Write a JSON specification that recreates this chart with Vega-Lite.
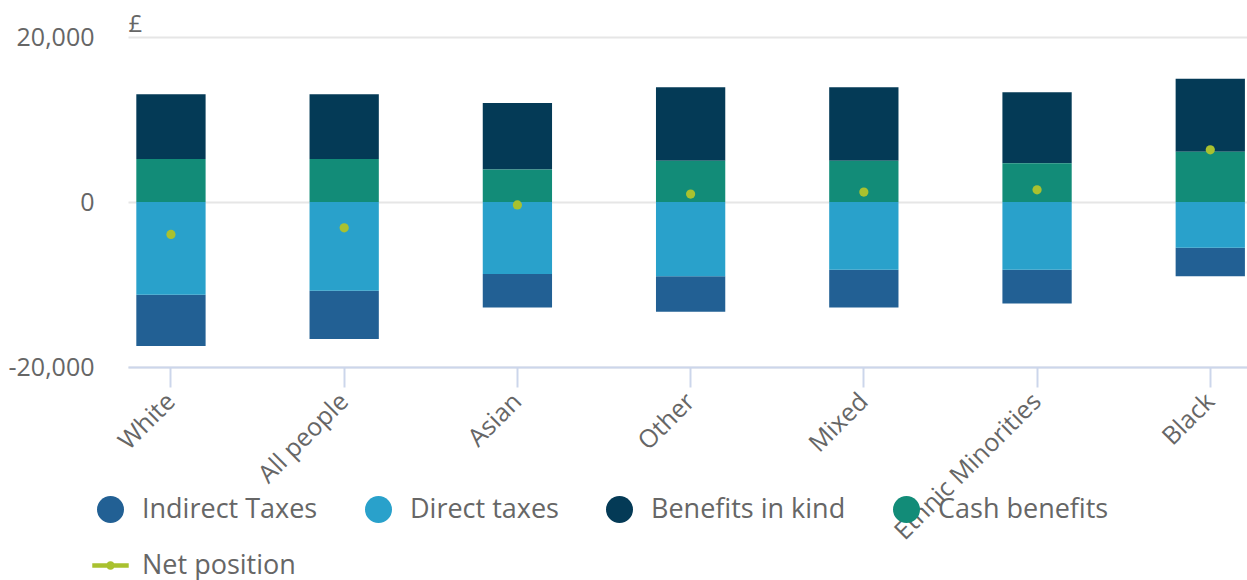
{
  "$schema": "https://vega.github.io/schema/vega-lite/v6.json",
  "autosize": {"type": "none"},
  "padding": {"left": 128, "top": 37, "right": 0, "bottom": 213},
  "width": 1119,
  "height": 330,
  "background": "#ffffff",
  "config": {
    "view": {"stroke": null},
    "font": "Open Sans"
  },
  "data": {
    "values": [
      {"group": "White", "series": "Indirect Taxes", "value": -6210, "rank": 2},
      {"group": "White", "series": "Direct taxes", "value": -11230, "rank": 1},
      {"group": "White", "series": "Benefits in kind", "value": 7850, "rank": 2},
      {"group": "White", "series": "Cash benefits", "value": 5210, "rank": 1},
      {"group": "White", "series": "Net position", "value": -3930, "rank": 3},
      {"group": "All people", "series": "Indirect Taxes", "value": -5850, "rank": 2},
      {"group": "All people", "series": "Direct taxes", "value": -10750, "rank": 1},
      {"group": "All people", "series": "Benefits in kind", "value": 7850, "rank": 2},
      {"group": "All people", "series": "Cash benefits", "value": 5210, "rank": 1},
      {"group": "All people", "series": "Net position", "value": -3130, "rank": 3},
      {"group": "Asian", "series": "Indirect Taxes", "value": -4070, "rank": 2},
      {"group": "Asian", "series": "Direct taxes", "value": -8730, "rank": 1},
      {"group": "Asian", "series": "Benefits in kind", "value": 8070, "rank": 2},
      {"group": "Asian", "series": "Cash benefits", "value": 3930, "rank": 1},
      {"group": "Asian", "series": "Net position", "value": -360, "rank": 3},
      {"group": "Other", "series": "Indirect Taxes", "value": -4300, "rank": 2},
      {"group": "Other", "series": "Direct taxes", "value": -9000, "rank": 1},
      {"group": "Other", "series": "Benefits in kind", "value": 8900, "rank": 2},
      {"group": "Other", "series": "Cash benefits", "value": 5000, "rank": 1},
      {"group": "Other", "series": "Net position", "value": 960, "rank": 3},
      {"group": "Mixed", "series": "Indirect Taxes", "value": -4600, "rank": 2},
      {"group": "Mixed", "series": "Direct taxes", "value": -8200, "rank": 1},
      {"group": "Mixed", "series": "Benefits in kind", "value": 8900, "rank": 2},
      {"group": "Mixed", "series": "Cash benefits", "value": 5000, "rank": 1},
      {"group": "Mixed", "series": "Net position", "value": 1200, "rank": 3},
      {"group": "Ethnic Minorities", "series": "Indirect Taxes", "value": -4100, "rank": 2},
      {"group": "Ethnic Minorities", "series": "Direct taxes", "value": -8200, "rank": 1},
      {"group": "Ethnic Minorities", "series": "Benefits in kind", "value": 8600, "rank": 2},
      {"group": "Ethnic Minorities", "series": "Cash benefits", "value": 4700, "rank": 1},
      {"group": "Ethnic Minorities", "series": "Net position", "value": 1480, "rank": 3},
      {"group": "Black", "series": "Indirect Taxes", "value": -3450, "rank": 2},
      {"group": "Black", "series": "Direct taxes", "value": -5550, "rank": 1},
      {"group": "Black", "series": "Benefits in kind", "value": 8850, "rank": 2},
      {"group": "Black", "series": "Cash benefits", "value": 6100, "rank": 1},
      {"group": "Black", "series": "Net position", "value": 6330, "rank": 3}
    ]
  },
  "encoding": {
    "x": {
      "field": "group",
      "type": "nominal",
      "sort": null,
      "scale": {"paddingInner": 0.6, "paddingOuter": 0.03, "align": 0.8},
      "axis": {
        "title": null,
        "labelAngle": -45,
        "labelAlign": "right",
        "labelBaseline": "middle",
        "labelFontSize": 25,
        "labelColor": "#666666",
        "labelPadding": 10,
        "labelOverlap": false,
        "labelBound": false,
        "labelLimit": 0,
        "tickSize": 20,
        "tickWidth": 2,
        "tickColor": "#ccd6eb",
        "domainColor": "#ccd6eb",
        "domainWidth": 2,
        "grid": false
      }
    },
    "color": {
      "field": "series",
      "type": "nominal",
      "scale": {
        "domain": ["Indirect Taxes", "Direct taxes", "Benefits in kind", "Cash benefits", "Net position"],
        "range": ["#226094", "#29a1cb", "#043a56", "#128c78", "#a9c12f"]
      },
      "legend": {
        "title": null,
        "orient": "none",
        "legendX": -31,
        "legendY": 459,
        "direction": "horizontal",
        "columns": 4,
        "padding": 0,
        "columnPadding": 47,
        "rowPadding": 28,
        "symbolSize": 729,
        "symbolType": "circle",
        "symbolStrokeWidth": 0,
        "labelOffset": 18,
        "labelFontSize": 27,
        "labelColor": "#666666",
        "labelFont": "Open Sans",
        "labelLimit": 0,
        "encode": {
          "symbols": {
            "update": {
              "shape": {"signal": "datum.value === 'Net position' ? 'M-1.35,-0.17H1.35V0.17H-1.35Z M-0.32,0A0.32,0.32 0 1,1 0.32,0A0.32,0.32 0 1,1 -0.32,0Z' : 'circle'"}
            }
          }
        }
      }
    }
  },
  "layer": [
    {
      "transform": [{"filter": "datum.series !== 'Net position'"}],
      "mark": {"type": "bar"},
      "encoding": {
        "y": {
          "field": "value",
          "type": "quantitative",
          "stack": "zero",
          "scale": {"domain": [-20000, 20000], "nice": false},
          "axis": {
            "title": "£",
            "titleAngle": 0,
            "titleAlign": "left",
            "titleBaseline": "alphabetic",
            "titleX": 0,
            "titleY": -6,
            "titleFontSize": 24,
            "titleFontWeight": "normal",
            "titleColor": "#666666",
            "values": [-20000, 0, 20000],
            "labelExpr": "replace(format(datum.value, ','), '\u2212', '-')",
            "labelFontSize": 25,
            "labelColor": "#666666",
            "labelPadding": 34,
            "ticks": false,
            "domain": false,
            "grid": true,
            "gridColor": "#e6e6e6",
            "gridWidth": 2
          }
        },
        "order": {"field": "rank", "type": "quantitative"}
      }
    },
    {
      "transform": [{"filter": "datum.series === 'Net position'"}],
      "mark": {"type": "point", "filled": true, "size": 85, "opacity": 1},
      "encoding": {
        "y": {"field": "value", "type": "quantitative"}
      }
    }
  ]
}
